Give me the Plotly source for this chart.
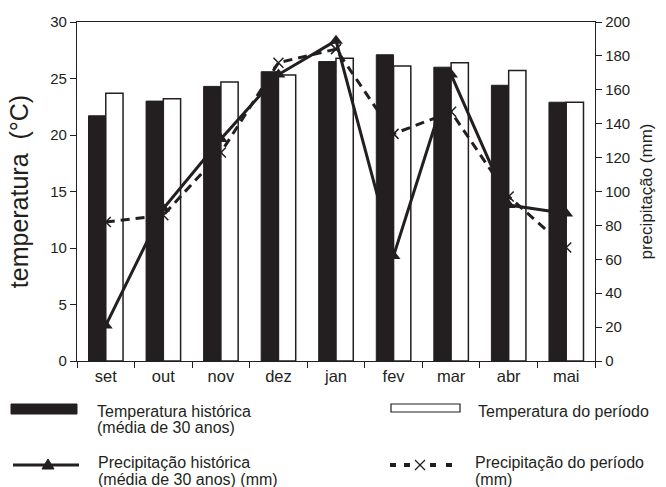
import plotly.graph_objects as go

months = ["set", "out", "nov", "dez", "jan", "fev", "mar", "abr", "mai"]
temp_hist = [21.7, 23.0, 24.3, 25.6, 26.5, 27.1, 26.0, 24.4, 22.9]
temp_per = [23.7, 23.2, 24.7, 25.3, 26.8, 26.1, 26.4, 25.7, 22.9]
prec_hist = [21, 90, 131, 169, 189, 62, 169, 92, 87]
prec_per = [82, 86, 123, 176, 184, 134, 147, 97, 67]

FONT = "Liberation Sans, Arial, sans-serif"
INK = "#231f20"
L, R, T, B = 77, 595, 22, 361
W, H = 666, 487


def px(x):
    return (x - L) / (R - L)


def py(y):
    return (B - y) / (B - T)


fig = go.Figure()
fig.add_trace(go.Bar(x=months, y=temp_hist, name="Temperatura histórica",
                     marker=dict(color=INK, line=dict(color=INK, width=1)),
                     width=0.3, offsetgroup="a"))
fig.add_trace(go.Bar(x=months, y=temp_per, name="Temperatura do período",
                     marker=dict(color="white", line=dict(color=INK, width=1.5)),
                     width=0.3, offsetgroup="b"))
fig.add_trace(go.Scatter(x=months, y=prec_per, yaxis="y2", mode="lines+markers",
                         line=dict(color=INK, width=3, dash="9px,6px"),
                         marker=dict(symbol="x-thin", size=10, line=dict(color=INK, width=1.5))))
fig.add_trace(go.Scatter(x=months, y=prec_hist, yaxis="y2", mode="lines+markers",
                         line=dict(color=INK, width=3),
                         marker=dict(symbol="triangle-up", size=12, color=INK)))

def prect(x0, x1, y0, y1, fill, lw=1):
    return dict(type="rect", xref="paper", yref="paper", x0=px(x0), x1=px(x1), y0=py(y1), y1=py(y0),
                fillcolor=fill, line=dict(color=INK, width=lw))

shapes = [
    prect(11, 77, 404, 414, INK),
    prect(391, 460, 404, 412, "white", 1.2),
    dict(type="line", xref="paper", yref="paper", x0=px(13), x1=px(79), y0=py(465), y1=py(465),
         line=dict(color=INK, width=3)),
    dict(type="path", xref="paper", yref="paper",
         path=f"M {px(42)},{py(469)} L {px(54)},{py(469)} L {px(48)},{py(459)} Z",
         fillcolor=INK, line=dict(color=INK, width=1)),
    prect(390, 396, 463, 467, INK, 0),
    prect(404, 410, 463, 467, INK, 0),
    prect(430, 436, 463, 467, INK, 0),
    prect(446, 452, 463, 467, INK, 0),
    dict(type="line", xref="paper", yref="paper", x0=px(415), x1=px(425), y0=py(460), y1=py(470),
         line=dict(color=INK, width=1.3)),
    dict(type="line", xref="paper", yref="paper", x0=px(415), x1=px(425), y0=py(470), y1=py(460),
         line=dict(color=INK, width=1.3)),
]

ann = []
def txt(x, y, s):
    ann.append(dict(x=px(x), y=py(y), xref="paper", yref="paper", text=s, showarrow=False,
                    xanchor="left", yanchor="middle", xshift=-2,
                    font=dict(family=FONT, size=16, color=INK)))

txt(97, 411, "Temperatura histórica")
txt(97, 427.5, "(média de 30 anos)")
txt(478, 411, "Temperatura do período")
txt(98, 462.5, "Precipitação histórica")
txt(98, 479, "(média de 30 anos) (mm)")
txt(475, 462.5, "Precipitação do período")
txt(475, 479, "(mm)")

fig.update_layout(
    width=W, height=H,
    margin=dict(l=L, r=W - R, t=T, b=H - B),
    paper_bgcolor="white", plot_bgcolor="white",
    showlegend=False,
    barmode="group", bargap=0.4, bargroupgap=0,
    font=dict(family=FONT, color=INK, size=15),
    shapes=shapes, annotations=ann,
    xaxis=dict(type="category", tickson="boundaries", ticks="outside", ticklen=6, tickwidth=1.3,
               tickcolor=INK, showline=True, linecolor=INK, linewidth=1.3,
               mirror=True, showgrid=False, tickfont=dict(size=16.5), range=[-0.5, 8.5]),
    yaxis=dict(range=[0, 30], dtick=5, ticks="outside", ticklen=6, tickwidth=1.3, tickcolor=INK,
               showline=True, linecolor=INK, linewidth=1.3, showgrid=False, zeroline=False,
               title=dict(text="temperatura  (°C)", font=dict(size=25), standoff=14),
               tickfont=dict(size=15)),
    yaxis2=dict(range=[0, 200], dtick=20, overlaying="y", side="right", ticks="outside", ticklen=6,
                tickwidth=1.3, tickcolor=INK, showline=True, linecolor=INK, linewidth=1.3,
                showgrid=False, zeroline=False,
                title=dict(text="precipitação (mm)", font=dict(size=17), standoff=10),
                tickfont=dict(size=15)),
)

fig.write_html("out.html", config={"displayModeBar": False},
               post_script="document.body.style.margin='0';document.body.style.overflow='hidden';")
